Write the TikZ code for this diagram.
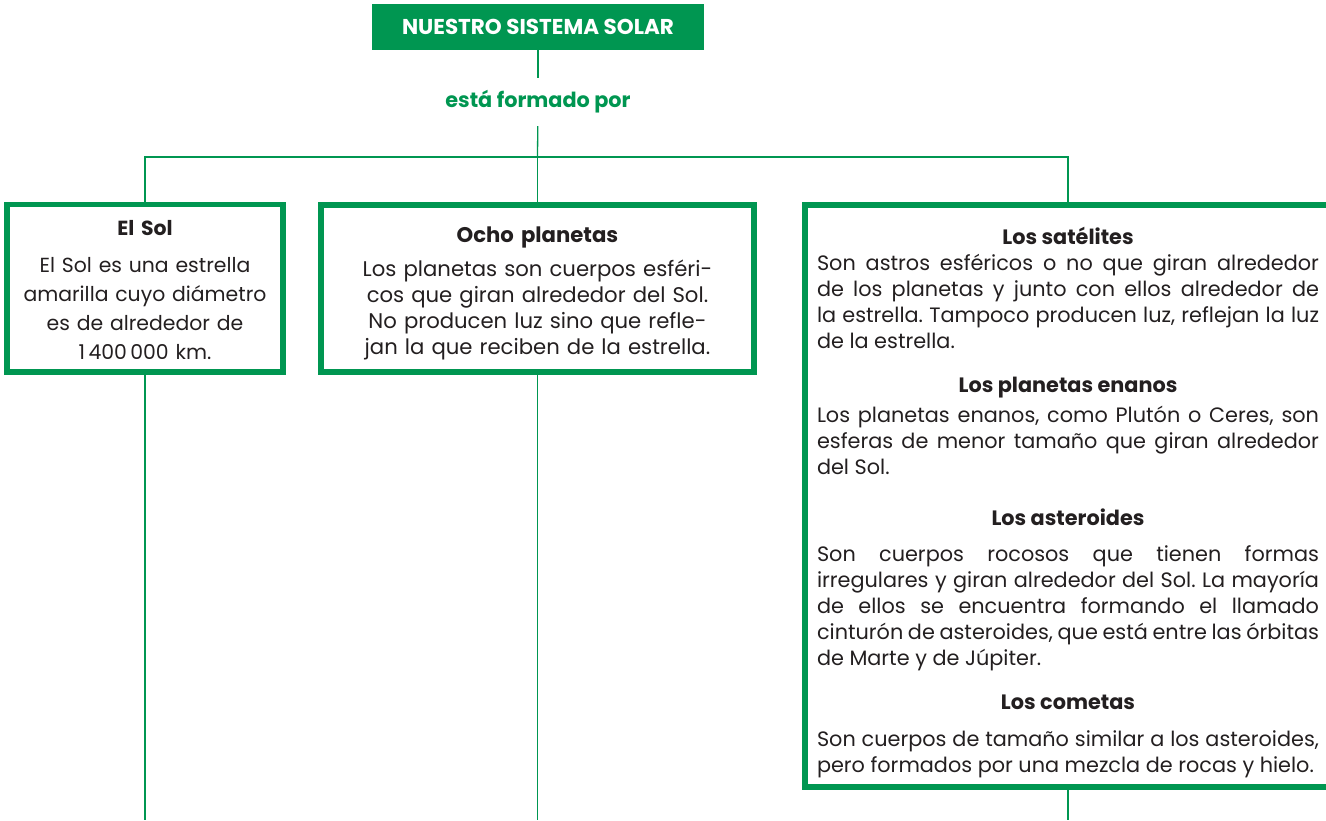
\documentclass[tikz,border=0pt]{standalone}
\usepackage{fontspec}
\setmainfont{Poppins}
\usetikzlibrary{positioning}
\definecolor{verde}{RGB}{0,150,81}
\definecolor{texto}{RGB}{35,31,32}

\newcommand{\cabecera}[1]{\centerline{\bfseries #1}}

\tikzset{
  titulo/.style={fill=verde, text=white, font=\bfseries\fontsize{21.5}{24}\selectfont,
    minimum width=332pt, minimum height=46pt, inner sep=0pt},
  enlace/.style={text=verde, font=\bfseries\fontsize{20.8}{24}\selectfont,
    minimum height=48pt, inner sep=0pt},
  caja/.style={draw=verde, line width=5.5pt, text=texto, inner sep=0pt},
  rama/.style={draw=verde, line width=1.3pt},
}

\begin{document}
\frenchspacing
\begin{tikzpicture}[x=1pt, y=-1pt]
    \useasboundingbox (0,0) rectangle (1326,820);
    % cabecera
    \node[titulo] (sistema) at (538,27) {NUESTRO SISTEMA SOLAR};
    \node[enlace] (formado) at (538,102) {está formado por};
    \coordinate (cruce) at (537.5,157);
    \coordinate (fin) at (0,820);
    % cajas
    \node[caja, align=center, minimum width=276pt, minimum height=167.5pt, text width=260pt,
          font=\fontsize{20.4}{29}\selectfont] (sol) at (145,288.25)
        {\rule{0pt}{19pt}\textbf{El Sol}\\[8pt]
         El Sol es una estrella\\
         amarilla cuyo diámetro\\
         es de alrededor de\\
         1\,400\,000 km.};
    \node[caja, align=center, minimum width=433pt, minimum height=167pt, text width=420pt,
          font=\fontsize{21.2}{26}\selectfont] (planetas) at (537.5,288.5)
        {\rule{0pt}{25.5pt}\textbf{Ocho planetas}\\[8pt]
         Los planetas son cuerpos esféri-\\
         cos que giran alrededor del Sol.\\
         No producen luz sino que refle-\\
         jan la que reciben de la estrella.};
    \node[caja, align=justify, minimum width=526pt, minimum height=582pt, text width=502pt,
          font=\fontsize{20.8}{26}\selectfont] (satelites) at (1068,496)
        {\cabecera{\rule{0pt}{31pt}Los satélites}
         Son astros esféricos o no que giran alrededor\linebreak
         de los planetas y junto con ellos alrededor de\linebreak
         la estrella. Tampoco producen luz, reflejan la luz\linebreak
         de la estrella.\par
         \vspace{18pt}
         \cabecera{Los planetas enanos}
         \vspace{4pt}
         Los planetas enanos, como Plutón o Ceres, son\linebreak
         esferas de menor tamaño que giran alrededor\linebreak
         del Sol.\par
         \vspace{25pt}
         \cabecera{Los asteroides}
         \vspace{10pt}
         Son cuerpos rocosos que tienen formas\linebreak
         irregulares y giran alrededor del Sol. La mayoría\linebreak
         de ellos se encuentra formando el llamado\linebreak
         cinturón de asteroides, que está entre las órbitas\linebreak
         de Marte y de Júpiter.\par
         \vspace{18pt}
         \cabecera{Los cometas}
         \vspace{11pt}
         Son cuerpos de tamaño similar a los asteroides,\linebreak
         pero formados por una mezcla de rocas y hielo.\par};
    % conectores
    \draw[rama] (sistema) -- (formado);
    \draw[rama] (formado) -- (cruce);
    \draw[rama] (sol) |- (cruce) -| (satelites);
    \draw[rama] (cruce) -- (planetas);
    \draw[rama] (sol) -- (sol.south |- fin);
    \draw[rama] (planetas) -- (planetas.south |- fin);
    \draw[rama] (satelites) -- (satelites.south |- fin);
\end{tikzpicture}
\end{document}
